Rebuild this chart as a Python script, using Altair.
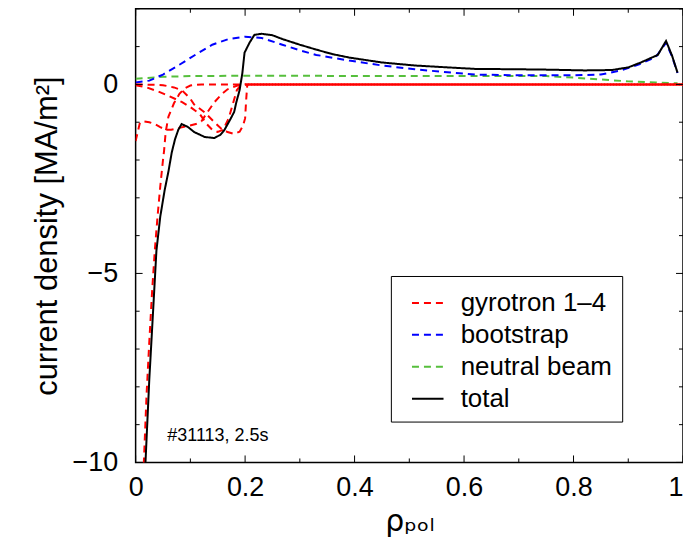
import altair as alt
import pandas as pd

# ---------------- data ----------------
series_names = ["gyrotron 1\u20134", "bootstrap", "neutral beam", "total"]
series_colors = ["#ff0000", "#0000ff", "#56bf3c", "#000000"]

# gyrotron curves (deposition part)
g1_x = [0.012, 0.015, 0.02, 0.025, 0.03, 0.035, 0.04, 0.045, 0.05, 0.052, 0.055, 0.06, 0.07, 0.08, 0.09, 0.10, 0.12, 0.2]
g1_y = [-11.0, -10.0, -8.2, -6.8, -5.5, -4.4, -3.5, -2.7, -2.0, -1.75, -1.25, -0.85, -0.5, -0.25, -0.1, -0.03, 0.0, 0.0]

g2_x = [0.0, 0.008, 0.015, 0.025, 0.035, 0.045, 0.055, 0.065, 0.08, 0.095, 0.11, 0.12, 0.131, 0.144, 0.157, 0.168, 0.186, 0.2]
g2_y = [-1.5, -1.0, -0.98, -1.0, -1.05, -1.13, -1.2, -1.2, -1.15, -1.1, -1.05, -0.98, -0.74, -0.47, -0.26, -0.13, -0.03, 0.0]

g3_x = [0.0, 0.02, 0.04, 0.06, 0.085, 0.1, 0.117, 0.13, 0.14, 0.15, 0.16, 0.17, 0.178, 0.185, 0.192, 0.2]
g3_y = [-0.02, -0.08, -0.18, -0.3, -0.47, -0.6, -0.78, -1.05, -1.2, -1.26, -1.2, -0.9, -0.5, -0.15, -0.02, 0.0]

g4_x = [0.0, 0.03, 0.05, 0.07, 0.085, 0.1, 0.107, 0.126, 0.144, 0.157, 0.168, 0.18, 0.19, 0.196, 0.2, 0.202, 0.204]
g4_y = [0.0, -0.01, -0.02, -0.08, -0.16, -0.38, -0.53, -0.74, -1.0, -1.18, -1.26, -1.31, -1.25, -1.1, -0.9, -0.4, 0.0]

# gyrotron curves (zero tail out to the edge)
tail_x = [0.2, 0.4, 0.6, 0.8, 1.0]
tail_y = [0.0, 0.0, 0.0, 0.0, 0.0]

# bootstrap
bs_x = [0.0, 0.025, 0.05, 0.08, 0.11, 0.14, 0.17, 0.2, 0.23, 0.268, 0.3, 0.33, 0.39, 0.45, 0.51, 0.57, 0.62, 0.7, 0.8, 0.85, 0.887, 0.92, 0.95, 0.969, 0.98, 0.99]
bs_y = [0.05, 0.1, 0.26, 0.52, 0.79, 1.05, 1.2, 1.26, 1.23, 1.05, 0.9, 0.78, 0.63, 0.5, 0.4, 0.32, 0.26, 0.24, 0.24, 0.26, 0.37, 0.53, 0.72, 1.1, 0.74, 0.3]

# neutral beam
nb_x = [0.0, 0.05, 0.1, 0.2, 0.3, 0.4, 0.5, 0.57, 0.65, 0.75, 0.8, 0.85, 0.9, 0.95, 0.99]
nb_y = [0.15, 0.2, 0.22, 0.23, 0.23, 0.22, 0.22, 0.22, 0.22, 0.22, 0.18, 0.13, 0.08, 0.05, 0.03]

# total
tot_x = [0.014, 0.018, 0.025, 0.03, 0.038, 0.045, 0.053, 0.06, 0.066, 0.072, 0.078, 0.084, 0.095, 0.107, 0.126, 0.144, 0.155, 0.162, 0.172, 0.18, 0.184, 0.19, 0.195, 0.199, 0.208, 0.217, 0.23, 0.25, 0.268, 0.3, 0.33, 0.36, 0.39, 0.45, 0.51, 0.57, 0.62, 0.7, 0.754, 0.82, 0.87, 0.9, 0.923, 0.954, 0.969, 0.98, 0.99]
tot_y = [-11.0, -10.0, -7.8, -6.5, -4.4, -3.5, -2.8, -2.3, -1.8, -1.45, -1.2, -1.05, -1.12, -1.26, -1.39, -1.42, -1.33, -1.21, -0.95, -0.73, -0.47, -0.15, 0.3, 0.84, 1.1, 1.31, 1.34, 1.3, 1.2, 1.05, 0.92, 0.8, 0.71, 0.58, 0.5, 0.45, 0.41, 0.4, 0.39, 0.37, 0.38, 0.45, 0.58, 0.78, 1.15, 0.76, 0.31]

# tick positions
x_major = [0.0, 0.2, 0.4, 0.6, 0.8, 1.0]
x_minor = [0.1, 0.3, 0.5, 0.7, 0.9]
y_major = [-10, -5, 0]
y_minor = [-9, -8, -7, -6, -4, -3, -2, -1, 1, 2]

note_x = [0.058]
note_y = [-9.3]
note_text = ["#31113, 2.5s"]

# ---------------- build tables ----------------
rows = []
def add(xs, ys, series, curve):
    for a, b in zip(xs, ys):
        rows.append({"rho": a, "j": b, "series": series, "curve": curve})

add(g1_x, g1_y, series_names[0], "g1")
add(g2_x, g2_y, series_names[0], "g2")
add(g3_x, g3_y, series_names[0], "g3")
add(g4_x, g4_y, series_names[0], "g4")
for k in range(4):
    add(tail_x, tail_y, series_names[0], "tail%d" % k)
add(bs_x, bs_y, series_names[1], "bs")
add(nb_x, nb_y, series_names[2], "nb")
add(tot_x, tot_y, series_names[3], "tot")
df = pd.DataFrame(rows)

W, H = 549, 455
FONT = "Liberation Sans"

xscale = alt.Scale(domain=[0, 1], nice=False, zero=False)
yscale = alt.Scale(domain=[-10, 2], nice=False, zero=False)

leg = alt.Legend(
    title=None, orient="none", legendX=256, legendY=268,
    fillColor="white", strokeColor="black", padding=10,
    labelFontSize=26, labelFont=FONT, labelColor="black",
    symbolType="stroke", symbolSize=1000, symbolStrokeWidth=2,
    symbolOffset=10, rowPadding=2, labelOffset=16, labelLimit=400,
)

color = alt.Color(
    "series:N",
    scale=alt.Scale(domain=series_names, range=series_colors),
    legend=leg,
)
dash = alt.StrokeDash(
    "series:N",
    scale=alt.Scale(domain=series_names, range=[[7, 5], [7, 5], [7, 5], [1, 0]]),
    legend=leg,
)

x_axis = alt.Axis(
    values=x_major, ticks=False, tickSize=0, domain=False, grid=False,
    labelFontSize=27, labelFont=FONT, labelColor="black", labelPadding=12,
    labelFlush=False,
    labelAlign={"condition": {"test": "datum.value == 1", "value": "right"}, "value": "center"},
    labelExpr="datum.value == 0 ? '0' : datum.value == 1 ? '1' : format(datum.value, '.1f')",
    title="\u03c1\u209a\u2092\u2097", titleFontSize=30, titleFont="DejaVu Sans", titleFontWeight="normal",
    titleColor="black", titlePadding=6,
)
y_axis = alt.Axis(
    values=y_major, ticks=False, tickSize=0, domain=False, grid=False,
    labelFontSize=27, labelFont=FONT, labelColor="black", labelPadding=18,
    labelFlush=False,
    labelExpr="replace(datum.label, '-', '\u2212')",
    title="current density [MA/m\u00b2]", titleFontSize=31, titleFont=FONT,
    titleFontWeight="normal", titleColor="black", titlePadding=9,
)

base = alt.Chart(df)

def curve_layer(curves, offset=0):
    return base.transform_filter(
        alt.FieldOneOfPredicate(field="curve", oneOf=curves)
    ).mark_line(strokeWidth=2, clip=True, strokeDashOffset=offset).encode(
        x=alt.X("rho:Q", scale=xscale, axis=x_axis),
        y=alt.Y("j:Q", scale=yscale, axis=y_axis),
        color=color,
        strokeDash=dash,
        detail="curve:N",
    )

layers = [curve_layer(["nb"]), curve_layer(["bs"]),
          curve_layer(["g1", "g2", "g3", "g4"])]
for k in range(4):
    layers.append(curve_layer(["tail%d" % k], offset=3 * k))
layers.append(curve_layer(["tot"]))

# inward ticks on all four sides
def xticks(vals, length):
    d = pd.DataFrame({"v": vals})
    bottom = alt.Chart(d).mark_rule(color="black", strokeWidth=1).encode(
        x=alt.X("v:Q", scale=xscale, axis=x_axis), y=alt.value(H), y2=alt.value(H - length))
    top = alt.Chart(d).mark_rule(color="black", strokeWidth=1).encode(
        x=alt.X("v:Q", scale=xscale, axis=x_axis), y=alt.value(0), y2=alt.value(length))
    return [bottom, top]

def yticks(vals, length):
    d = pd.DataFrame({"v": vals})
    left = alt.Chart(d).mark_rule(color="black", strokeWidth=1).encode(
        y=alt.Y("v:Q", scale=yscale, axis=y_axis), x=alt.value(0), x2=alt.value(length))
    right = alt.Chart(d).mark_rule(color="black", strokeWidth=1).encode(
        y=alt.Y("v:Q", scale=yscale, axis=y_axis), x=alt.value(W), x2=alt.value(W - length))
    return [left, right]

tick_layers = xticks(x_major, 7) + xticks(x_minor, 4) + yticks(y_major, 7) + yticks(y_minor, 4)

note = alt.Chart(pd.DataFrame({"x": note_x, "y": note_y, "t": note_text})).mark_text(
    align="left", baseline="middle", fontSize=18, font=FONT, color="black"
).encode(
    x=alt.X("x:Q", scale=xscale, axis=x_axis),
    y=alt.Y("y:Q", scale=yscale, axis=y_axis),
    text="t:N",
)

chart = alt.layer(*layers, *tick_layers, note).properties(
    width=W, height=H,
    background="white",
    autosize=alt.AutoSizeParams(type="none"),
    padding={"left": 128, "top": 0, "right": 0, "bottom": 80},
).configure_view(
    stroke="black", strokeWidth=1.5
)

chart.save("out.html", embed_options={"renderer": "svg", "actions": False})
